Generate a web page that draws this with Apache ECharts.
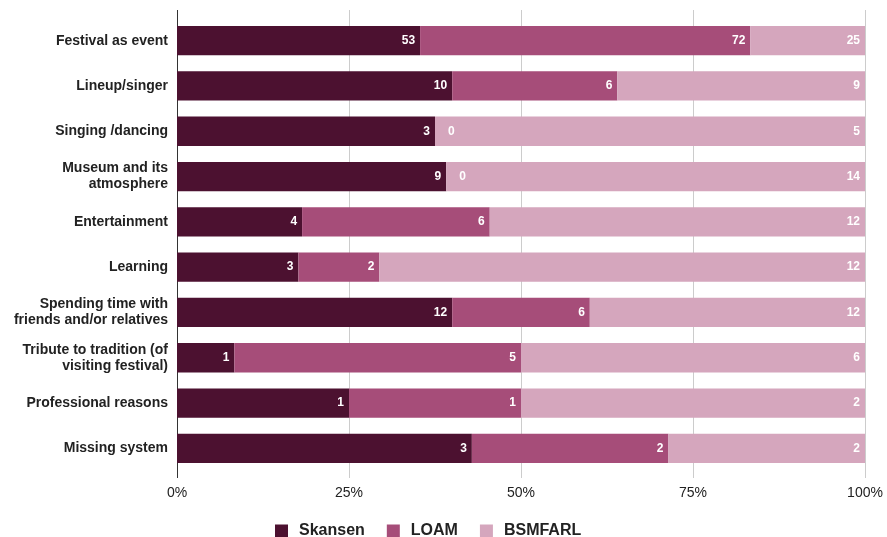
<!DOCTYPE html>
<html>
<head>
<meta charset="utf-8">
<script src="https://cdn.jsdelivr.net/npm/echarts@6/dist/echarts.min.js"></script>
<style>
  html, body { margin: 0; padding: 0; background: #fff; }
  #chart { width: 887px; height: 537px; }
</style>
</head>
<body>
<div id="chart"></div>
<script>
// Reasons for visiting, counts per venue (shown as 100% stacked bars)
const categories = [
  'Festival as event',
  'Lineup/singer',
  'Singing /dancing',
  'Museum and its\natmosphere',
  'Entertainment',
  'Learning',
  'Spending time with\nfriends and/or relatives',
  'Tribute to tradition (of\nvisiting festival)',
  'Professional reasons',
  'Missing system'
];
const skansen = [53, 10, 3, 9, 4, 3, 12, 1, 1, 3];
const loam    = [72, 6, 0, 0, 6, 2, 6, 5, 1, 2];
const bsmfarl = [25, 9, 5, 14, 12, 12, 12, 6, 2, 2];
const seriesNames = ['Skansen', 'LOAM', 'BSMFARL'];
const percentTicks = [0, 25, 50, 75, 100];

const colors = ['#4c1130', '#a64d79', '#d5a6bd'];
const rows = [skansen, loam, bsmfarl];
const totals = categories.map((_, i) => skansen[i] + loam[i] + bsmfarl[i]);

const labelBase = {
  show: true,
  position: 'insideRight',
  distance: 5,
  color: '#fff',
  fontFamily: 'Liberation Sans, Arial, sans-serif',
  fontWeight: 'bold',
  fontSize: 12,
  formatter: p => String(p.data.raw)
};

const series = rows.map((vals, s) => ({
  name: seriesNames[s],
  type: 'bar',
  stack: 'total',
  xAxisIndex: 1,
  yAxisIndex: 1,
  barWidth: '64.7%',
  itemStyle: { color: colors[s] },
  label: labelBase,
  emphasis: { disabled: true },
  data: vals.map((v, i) => {
    const item = { value: v / totals[i] * 100, raw: v };
    if (v === 0) {
      item.label = { position: 'insideLeft', distance: 13 };
    }
    return item;
  })
}));

const chart = echarts.init(document.getElementById('chart'), null, { renderer: 'canvas' });
chart.setOption({
  animation: false,
  backgroundColor: '#fff',
  legend: {
    left: 270,
    top: 518,
    itemWidth: 13,
    itemHeight: 13,
    itemGap: 22,
    icon: 'rect',
    textStyle: {
      fontFamily: 'Liberation Sans, Arial, sans-serif',
      fontWeight: 'bold',
      fontSize: 16,
      color: '#222',
      padding: [0, 0, 0, 6]
    },
    data: seriesNames
  },
  grid: [
    // frame with gridlines and percent ticks
    { left: 177, right: 22, top: 10, bottom: 59 },
    // bars
    { left: 177, right: 22, top: 18, bottom: 66 }
  ],
  xAxis: [
    {
      gridIndex: 0,
      type: 'value',
      min: percentTicks[0],
      max: percentTicks[percentTicks.length - 1],
      interval: 25,
      axisLine: { show: false },
      axisTick: { show: false },
      splitLine: {
        show: true,
        lineStyle: { color: ['#333', '#ccc', '#ccc', '#ccc', '#ccc'], width: 1 }
      },
      axisLabel: {
        margin: 8,
        color: '#222',
        fontFamily: 'Liberation Sans, Arial, sans-serif',
        fontSize: 14,
        formatter: '{value}%'
      }
    },
    {
      gridIndex: 1,
      type: 'value',
      min: 0,
      max: 100,
      show: false
    }
  ],
  yAxis: [
    {
      gridIndex: 0,
      type: 'value',
      show: false
    },
    {
      gridIndex: 1,
      type: 'category',
      inverse: true,
      data: categories,
      axisLine: { show: false },
      axisTick: { show: false },
      splitLine: { show: false },
      axisLabel: {
        margin: 9,
        color: '#222',
        fontFamily: 'Liberation Sans, Arial, sans-serif',
        fontWeight: 'bold',
        fontSize: 14,
        lineHeight: 16,
        align: 'right'
      }
    }
  ],
  series: series
});
</script>
</body>
</html>
